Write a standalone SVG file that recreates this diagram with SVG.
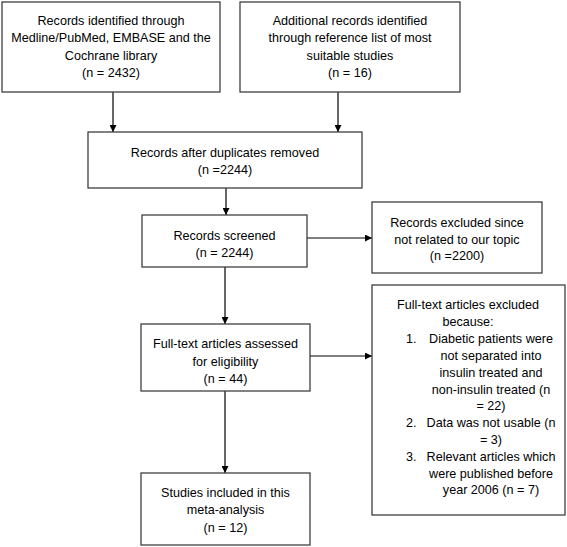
<svg xmlns="http://www.w3.org/2000/svg" width="567" height="547" viewBox="0 0 567 547">
<style>
.box{fill:#fff;stroke:#3f3f3f;stroke-width:1.3}
text{font-family:"Liberation Sans",Arial,sans-serif;font-size:12.6px;fill:#000;text-anchor:middle}
.l{text-anchor:start}
.c{stroke:#000;stroke-width:1.2;fill:none}
</style>
<defs>
<marker id="ah" viewBox="0 0 10 10" refX="10" refY="5" markerWidth="7" markerHeight="7" orient="auto" markerUnits="userSpaceOnUse">
<path d="M0,0 L10,5 L0,10 z" fill="#000"/>
</marker>
</defs>
<rect width="567" height="547" fill="#fff"/>
<g id="connectors">
<line class="c" x1="113" y1="92" x2="113" y2="132" marker-end="url(#ah)"/>
<line class="c" x1="338" y1="92" x2="338" y2="132" marker-end="url(#ah)"/>
<line class="c" x1="226" y1="188" x2="226" y2="215" marker-end="url(#ah)"/>
<line class="c" x1="307" y1="238" x2="372" y2="238" marker-end="url(#ah)"/>
<line class="c" x1="225" y1="267" x2="225" y2="324" marker-end="url(#ah)"/>
<line class="c" x1="310" y1="356" x2="372" y2="356" marker-end="url(#ah)"/>
<line class="c" x1="225" y1="391" x2="225" y2="473" marker-end="url(#ah)"/>
</g>
<g id="n1">
<rect class="box" x="2" y="2" width="218" height="90"/>
<text x="111" y="25">Records identified through</text>
<text x="111" y="42">Medline/PubMed, EMBASE and the</text>
<text x="111" y="60">Cochrane library</text>
<text x="111" y="77">(n = 2432)</text>
</g>
<g id="n2">
<rect class="box" x="240" y="2" width="220" height="90"/>
<text x="350" y="25">Additional records identified</text>
<text x="350" y="42">through reference list of most</text>
<text x="350" y="60">suitable studies</text>
<text x="350" y="77">(n = 16)</text>
</g>
<g id="n3">
<rect class="box" x="88" y="132" width="274" height="56"/>
<text x="225" y="157">Records after duplicates removed</text>
<text x="225" y="174">(n =2244)</text>
</g>
<g id="n4">
<rect class="box" x="142" y="215" width="165" height="52"/>
<text x="224.5" y="240">Records screened</text>
<text x="224.5" y="257">(n = 2244)</text>
</g>
<g id="n5">
<rect class="box" x="372" y="202" width="170" height="71"/>
<text x="457" y="227">Records excluded since</text>
<text x="457" y="244">not related to our topic</text>
<text x="457" y="260">(n =2200)</text>
</g>
<g id="n6">
<rect class="box" x="372" y="285" width="193" height="230"/>
<text x="468" y="309">Full-text articles excluded</text>
<text x="468" y="326">because:</text>
<text class="l" x="406" y="343">1.</text>
<text x="491" y="343">Diabetic patients were</text>
<text x="491" y="360">not separated into</text>
<text x="491" y="377">insulin treated and</text>
<text x="491" y="394">non-insulin treated (n</text>
<text x="491" y="410">= 22)</text>
<text class="l" x="406" y="427">2.</text>
<text x="491" y="427">Data was not usable (n</text>
<text x="491" y="444">= 3)</text>
<text class="l" x="406" y="461">3.</text>
<text x="491" y="461">Relevant articles which</text>
<text x="491" y="478">were published before</text>
<text x="491" y="494">year 2006 (n = 7)</text>
</g>
<g id="n7">
<rect class="box" x="141" y="324" width="169" height="67"/>
<text x="225.5" y="348">Full-text articles assessed</text>
<text x="225.5" y="366">for eligibility</text>
<text x="225.5" y="383">(n = 44)</text>
</g>
<g id="n8">
<rect class="box" x="141" y="473" width="169" height="72"/>
<text x="225.5" y="497">Studies included in this</text>
<text x="225.5" y="514">meta-analysis</text>
<text x="225.5" y="532">(n = 12)</text>
</g>
</svg>
